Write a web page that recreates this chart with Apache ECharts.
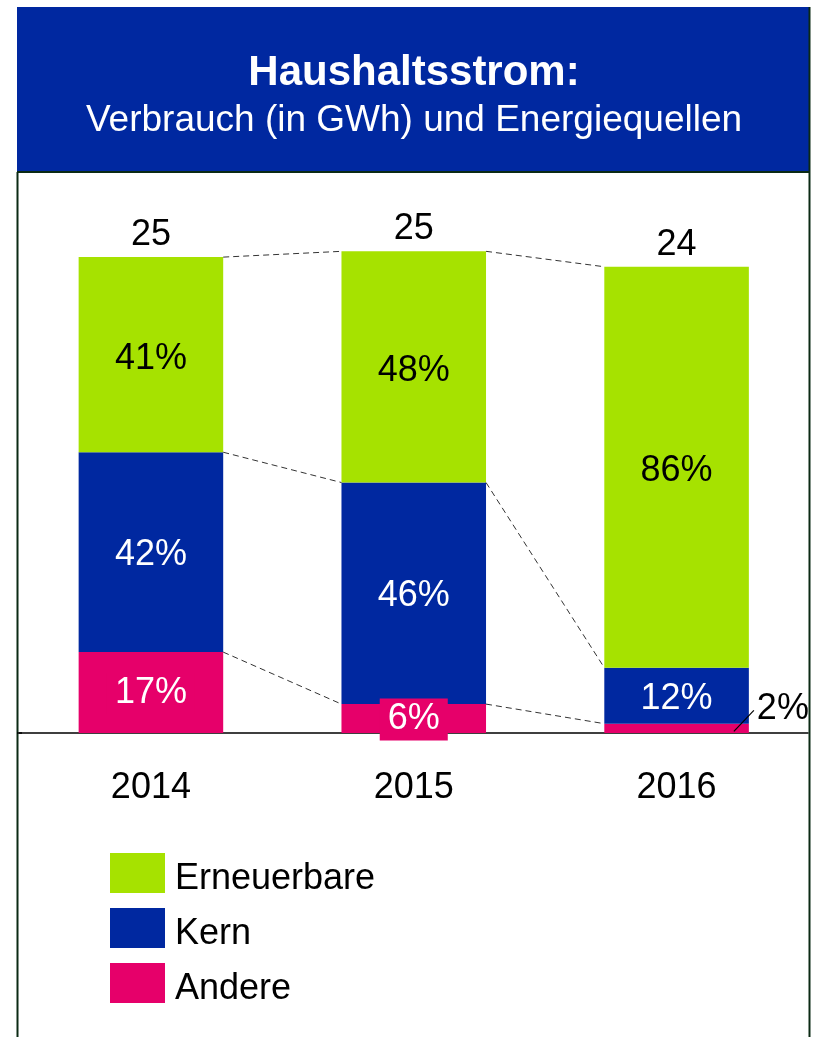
<!DOCTYPE html>
<html>
<head>
<meta charset="utf-8">
<script src="https://cdn.jsdelivr.net/npm/echarts@6/dist/echarts.min.js"></script>
<style>
  html, body { margin: 0; padding: 0; background: #fff; }
  #chart { width: 814px; height: 1037px; }
</style>
</head>
<body>
<div id="chart"></div>
<script>
// Daten
var years = ['2014', '2015', '2016'];
var totals = [24.7, 25.0, 24.2];          // Verbrauch in GWh
var shareErneuerbare = [41, 48, 86];      // Anteile in %
var shareKern = [42, 46, 12];
var shareAndere = [17, 6, 2];

var green = '#A6E200', blue = '#0028A0', magenta = '#E6006A';

function gwh(shares) {
    return shares.map(function (s, i) { return totals[i] * s / 100; });
}
var valAndere = gwh(shareAndere);
var valKern = gwh(shareKern);
var valErneuerbare = gwh(shareErneuerbare);

// Verbindungslinien zwischen den Segmentgrenzen (kumuliert)
var links = [];
for (var i = 0; i < years.length - 1; i++) {
    var a0 = valAndere[i], a1 = valAndere[i + 1];
    var k0 = a0 + valKern[i], k1 = a1 + valKern[i + 1];
    links.push([i, i + 1, a0, a1]);
    links.push([i, i + 1, k0, k1]);
    links.push([i, i + 1, totals[i], totals[i + 1]]);
}

var chart = echarts.init(document.getElementById('chart'));
var FONT = 'Liberation Sans, Arial, sans-serif';
var BAR_RATIO = 0.55;

var option = {
    animation: false,
    textStyle: { fontFamily: FONT },
    title: {
        text: 'Haushaltsstrom:',
        subtext: 'Verbrauch (in GWh) und Energiequellen',
        left: 414,
        textAlign: 'center',
        top: 52,
        itemGap: 8,
        padding: 0,
        textStyle: { color: '#fff', fontSize: 42, fontWeight: 'bold', lineHeight: 42, fontFamily: FONT },
        subtextStyle: { color: '#fff', fontSize: 37, lineHeight: 37, fontFamily: FONT }
    },
    graphic: [
        { type: 'rect', z: -1, shape: { x: 17, y: 7, width: 793, height: 165 }, style: { fill: blue } },
        { type: 'line', shape: { x1: 17, y1: 172, x2: 810, y2: 172 }, style: { stroke: '#0b2a14', lineWidth: 2 } },
        { type: 'line', shape: { x1: 17.5, y1: 172, x2: 17.5, y2: 1037 }, style: { stroke: '#0b2a14', lineWidth: 2 } },
        { type: 'line', shape: { x1: 809.5, y1: 7, x2: 809.5, y2: 1037 }, style: { stroke: '#0b2a14', lineWidth: 2 } },
        { type: 'line', shape: { x1: 17, y1: 733, x2: 22, y2: 733 }, style: { stroke: '#000', lineWidth: 1.5 } }
    ],
    legend: {
        orient: 'vertical',
        left: 110,
        top: 853,
        padding: 0,
        itemWidth: 55,
        itemHeight: 40,
        itemGap: 11,
        icon: 'rect',
        data: ['Erneuerbare', 'Kern', 'Andere'],
        formatter: '{t|{name}}',
        textStyle: {
            fontSize: 36, color: '#000', fontFamily: FONT,
            rich: { t: { fontSize: 36, color: '#000', fontFamily: FONT, padding: [12, 0, 0, 5] } }
        }
    },
    grid: { left: 19.5, right: 6, top: 155, bottom: 304 },
    xAxis: {
        type: 'category',
        data: years,
        axisLine: { lineStyle: { color: '#000', width: 1.5 } },
        axisTick: { show: false },
        axisLabel: { fontSize: 36, color: '#000', margin: 37, fontFamily: FONT }
    },
    yAxis: { type: 'value', min: 0, max: 30, show: false, splitLine: { show: false } },
    series: [
        {
            name: 'Andere', type: 'bar', stack: 'v', barWidth: (BAR_RATIO * 100) + '%',
            itemStyle: { color: magenta },
            data: valAndere.map(function (v, i) {
                var d = { value: v };
                if (i === 2) {
                    d.label = { position: 'right', distance: 0, offset: [8, -19], color: '#000', backgroundColor: 'transparent', padding: 0 };
                }
                return d;
            }),
            label: {
                show: true, position: 'inside', fontSize: 36, color: '#fff', offset: [0, 1],
                backgroundColor: magenta, padding: [3, 8, 3, 8], fontFamily: FONT,
                formatter: function (p) { return shareAndere[p.dataIndex] + '%'; }
            }
        },
        {
            name: 'Kern', type: 'bar', stack: 'v',
            itemStyle: { color: blue },
            data: valKern,
            label: {
                show: true, position: 'inside', fontSize: 36, color: '#fff', offset: [0, 3], fontFamily: FONT,
                formatter: function (p) { return shareKern[p.dataIndex] + '%'; }
            }
        },
        {
            name: 'Erneuerbare', type: 'bar', stack: 'v',
            itemStyle: { color: green },
            data: valErneuerbare,
            label: {
                show: true, position: 'inside', fontSize: 36, color: '#000', offset: [0, 4], fontFamily: FONT,
                formatter: function (p) { return shareErneuerbare[p.dataIndex] + '%'; }
            }
        },
        {
            name: 'Summe', type: 'scatter', symbolSize: 0,
            itemStyle: { opacity: 1 },
            data: totals.map(function (t, i) { return [i, t]; }),
            label: {
                show: true, position: 'top', distance: 4, fontSize: 36, color: '#000', fontFamily: FONT,
                formatter: function (p) { return Math.round(p.value[1]); }
            }
        },
        {
            name: 'Linien', type: 'custom', z: 5,
            data: links,
            renderItem: function (params, api) {
                var half = api.size([1, 0])[0] * BAR_RATIO / 2;
                var p0 = api.coord([api.value(0), api.value(2)]);
                var p1 = api.coord([api.value(1), api.value(3)]);
                return {
                    type: 'line',
                    shape: { x1: p0[0] + half, y1: p0[1], x2: p1[0] - half, y2: p1[1] },
                    style: { stroke: '#333', lineWidth: 1, lineDash: [6, 4] }
                };
            }
        },
        {
            name: 'Hinweis', type: 'custom', z: 5,
            data: [[2, valAndere[2]]],
            renderItem: function (params, api) {
                var half = api.size([1, 0])[0] * BAR_RATIO / 2;
                var p = api.coord([api.value(0), api.value(1) / 2]);
                return {
                    type: 'line',
                    shape: { x1: p[0] + half - 15, y1: p[1] + 3, x2: p[0] + half + 5, y2: p[1] - 18 },
                    style: { stroke: '#000', lineWidth: 1.2 }
                };
            }
        }
    ]
};
chart.setOption(option);
</script>
</body>
</html>
